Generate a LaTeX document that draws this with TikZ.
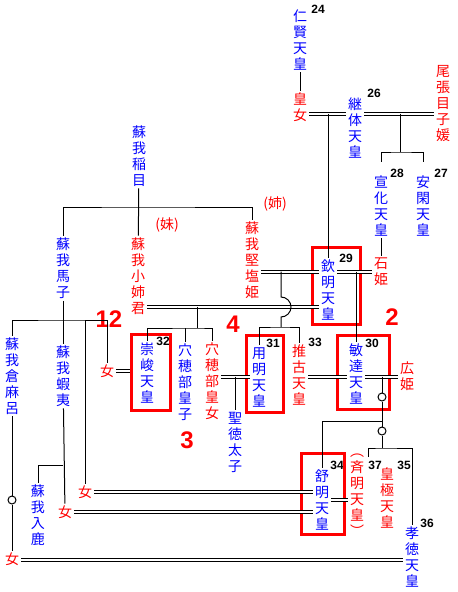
\documentclass[tikz,border=0pt]{standalone}
\usepackage{fontspec}
\setmainfont{Liberation Sans}
\newfontfamily\jpfont{Noto Sans CJK JP}
\tikzset{every picture/.style={line width=0.75pt}}

\begin{document}
\begin{tikzpicture}[x=0.75pt,y=0.75pt,yscale=-1,xscale=1,
  tate/.style={font=\jpfont\fontsize{10.5}{12}\selectfont, align=center, inner sep=0pt, outer sep=1.5pt},
  mname/.style={tate, text=blue},
  fname/.style={tate, text=red},
  num/.style={font=\bfseries\fontsize{9}{9}\selectfont, inner sep=0pt},
  order/.style={text=red, font=\bfseries\fontsize{18}{18}\selectfont, inner sep=0pt},
  dbl/.style={double, double distance=1.5pt},
  frame/.style={draw=red, line width=2.25pt, inner sep=0pt},
  gen/.style={circle, draw, fill=white, inner sep=0pt, minimum size=6pt}]
\useasboundingbox (0,0) rectangle (457,592);

% Text Node
\node[mname] (ninken) at (300,40) {仁\\賢\\天\\皇};
\node[num] (n24) at (318,9) {24};
\node[fname] (koujo) at (300,107.5) {皇\\女};
\node[mname] (keitai) at (355,128.5) {継\\体\\天\\皇};
\node[num] (n26) at (374,93) {26};
\node[fname] (menoko) at (443,103.5) {尾\\張\\目\\子\\媛};
\node[mname] (senka) at (381,206) {宣\\化\\天\\皇};
\node[num] (n28) at (397,173) {28};
\node[mname] (ankan) at (423,206) {安\\閑\\天\\皇};
\node[num] (n27) at (441,173) {27};
\node[fname] (ishihime) at (381,272) {石\\姫};
\node[mname] (kinmei) at (328,290) {欽\\明\\天\\皇};
\node[num] (n29) at (346,258) {29};
% Text Node
\node[mname] (iname) at (139,156) {蘇\\我\\稲\\目};
\node[mname] (umako) at (63,268.5) {蘇\\我\\馬\\子};
\node[fname] (oane) at (138,276) {蘇\\我\\小\\姉\\君};
\node[fname] (imouto) at (167,225) {(妹)};
\node[fname] (kitashi) at (252,260) {蘇\\我\\堅\\塩\\姫};
\node[fname] (ane) at (275,204) {(姉)};
% Text Node
\node[mname] (sushun) at (147,373.5) {崇\\峻\\天\\皇};
\node[num] (n32) at (163,341) {32};
\node[mname] (anahobeM) at (185,382.5) {穴\\穂\\部\\皇\\子};
\node[fname] (anahobeH) at (212,381.5) {穴\\穂\\部\\皇\\女};
\node[mname] (youmei) at (259,377) {用\\明\\天\\皇};
\node[num] (n31) at (273,343) {31};
\node[fname] (suiko) at (299,375) {推\\古\\天\\皇};
\node[num] (n33) at (315,342) {33};
\node[mname] (bidatsu) at (356,374) {敏\\達\\天\\皇};
\node[num] (n30) at (372,343) {30};
\node[fname] (hirohime) at (407,376) {広\\姫};
\node[mname] (shoutoku) at (235,442) {聖\\徳\\太\\子};
% Text Node
\node[mname] (kuramaro) at (12,376) {蘇\\我\\倉\\麻\\呂};
\node[mname] (emishi) at (63,376) {蘇\\我\\蝦\\夷};
\node[mname] (iruka) at (38,515) {蘇\\我\\入\\鹿};
\node[fname] (jo1) at (107,371) {女};
\node[fname] (jo2) at (65,512) {女};
\node[fname] (jo3) at (85,492) {女};
\node[fname] (jo4) at (12,559) {女};
% Text Node
\node[mname] (jomei) at (322,500) {舒\\明\\天\\皇};
\node[num] (n34) at (337,465) {34};
\node[fname] (saimei) at (357,495) {︵\\斉\\明\\天\\皇\\︶};
\node[num] (n37) at (375,465) {37};
\node[num] (n35) at (404,465) {35};
\node[fname] (kougyoku) at (387,498) {皇\\極\\天\\皇};
\node[mname] (koutoku) at (412,557.5) {孝\\徳\\天\\皇};
\node[num] (n36) at (427,523) {36};

% Text Node
\node[order] (o12) at (109,319) {12};
\node[order] (o4) at (233,324) {4};
\node[order] (o2) at (392,317) {2};
\node[order] (o3) at (187,440) {3};

%Shape: Rectangle
\node[frame, minimum width=36pt, minimum height=57.75pt] (kinmeiF) at (336.5,286) {};
\node[frame, minimum width=29.25pt, minimum height=57pt] (sushunF) at (151,372.5) {};
\node[frame, minimum width=27.75pt, minimum height=57.75pt] (youmeiF) at (265,374) {};
\node[frame, minimum width=39pt, minimum height=55.5pt] (bidatsuF) at (363.5,372.5) {};
\node[frame, minimum width=32.25pt, minimum height=60.75pt] (jomeiF) at (323,494) {};

\coordinate (m1) at (328,113.5);
\coordinate (m2) at (400,113.5);
\coordinate (b2) at (400,152);
\coordinate (b1) at (139,207);
\coordinate (m3) at (281,271.5);
\coordinate (m4) at (356,271.5);
\coordinate (m5) at (197,306.5);
\coordinate (b5) at (197,328);
\coordinate (b3) at (281,327);
\coordinate (b4) at (63,320);
\coordinate (m6) at (235,376.5);
\coordinate (m7) at (382,376.5);
\coordinate (m8) at (125,370.5);
\coordinate (b6) at (63,465);
\coordinate (b7) at (382,421);
\coordinate (b8) at (382,448);
\coordinate (c37) at (368,457);
\coordinate (m9) at (338,500);
\coordinate (m10) at (200,492);
\coordinate (m11) at (200,512);
\coordinate (m12) at (200,559.5);
\node[gen] (g1) at (382,397) {};
\node[gen] (g2) at (382,431) {};
\node[gen] (g0) at (12,500) {};

%Straight Lines
\draw (ninken) -- (koujo);
\draw[dbl] (koujo.east |- m1) -- (keitai.west |- m1);
\draw[dbl] (keitai.east |- m2) -- (menoko.west |- m2);
\draw (m1) -- (kinmei);
\draw (m2) -- (b2);
\draw[shorten <=9pt, shorten >=9pt] (senka) |- (b2) -| (ankan);
\draw (senka) -- (ishihime);

%Straight Lines
\draw (iname) -- (oane);
\draw (umako) |- (b1) -| (kitashi);
\draw[dbl] (kitashi.east |- m3) -- (kinmei.west |- m3);
\draw[dbl] (kinmei.east |- m4) -- (ishihime.west |- m4);
\draw (m4) -- (bidatsu);
\draw[dbl] (oane.east |- m5) -- (kinmei.west |- m5);
\draw (m5) -- (b5);
\draw (sushun) |- (b5) -| (anahobeH);
\draw (anahobeM) -- (anahobeM |- b5);
\draw (m3) -- (281,297) arc[start angle=-90, end angle=90, radius=10] -- (b3);
\draw (youmei) |- (b3) -| (suiko);
\draw[dbl] (anahobeH.east |- m6) -- (youmei.west |- m6);
\draw (m6) -- (shoutoku);
\draw[dbl] (suiko.east |- m7) -- (bidatsu.west |- m7);
\draw[dbl] (bidatsu.east |- m7) -- (hirohime.west |- m7);

%Straight Lines
\draw (m7) -- (g1);
\draw (g1) -- (g2);
\draw (jomei) |- (b7);
\draw (g2) -- (b8);
\draw (c37) |- (b8) -| (koutoku);
\draw[dbl] (jomei.east |- m9) -- (saimei.west |- m9);

%Straight Lines
\draw (umako) -- (emishi);
\draw (kuramaro) |- (b4) -| (jo1);
\draw (jo3) -- (jo3 |- b4);
\draw[dbl] (jo1.east |- m8) -- (sushunF.west |- m8);
\draw (emishi) -- (jo2);
\draw (iruka) |- (b6);
\draw (kuramaro) -- (g0);
\draw (g0) -- (jo4);
\draw[dbl] (jo3.east |- m10) -- (jomei.west |- m10);
\draw[dbl] (jo2.east |- m11) -- (jomei.west |- m11);
\draw[dbl] (jo4.east |- m12) -- (koutoku.west |- m12);

\end{tikzpicture}
\end{document}
